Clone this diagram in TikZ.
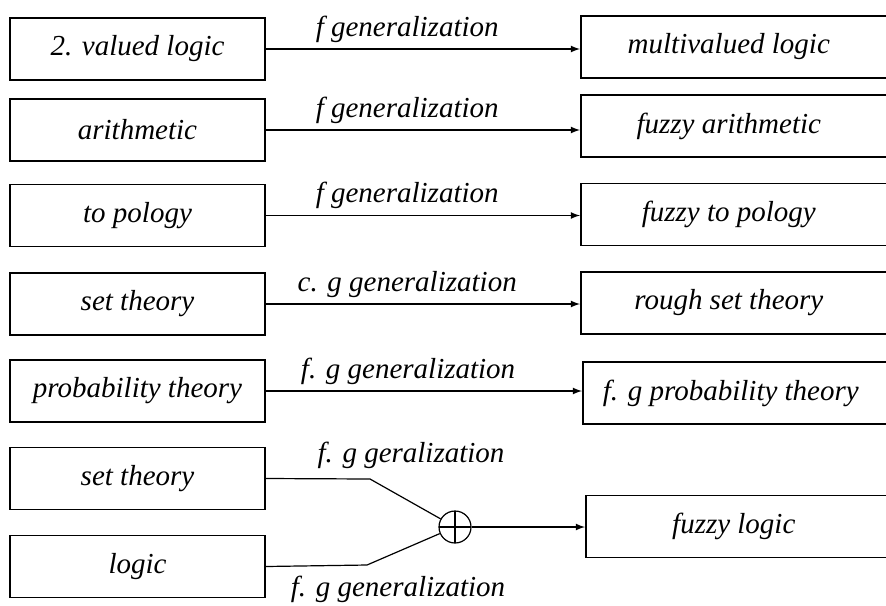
\documentclass[tikz,border=0pt]{standalone}
\usepackage{fontspec}
\setmainfont{Liberation Serif}
\usetikzlibrary{positioning}

\begin{document}
\begin{tikzpicture}[x=0.5pt,y=-0.5pt,>=latex,
    font=\fontsize{14.5}{16}\selectfont\itshape,
    lbox/.style={draw,line width=0.8pt,minimum width=127.5pt,minimum height=31pt,inner sep=0pt},
    rbox/.style={draw,line width=0.8pt,minimum height=31pt,inner sep=0pt,anchor=west,
      execute at begin node={\hbox to 148pt\bgroup\hss},
      execute at end node={\hss\egroup\hspace*{30pt}}},
    conn/.style={line width=0.6pt},
    lab/.style={above,inner sep=3pt}]
  \useasboundingbox (0,0) rectangle (886,605);
  % left column
  \node[lbox] (lval)  at (137.5,49)  {2. valued logic};
  \node[lbox] (larith) at (137.5,130) {arithmetic};
  \node[lbox] (ltop)  at (137.5,215.5) {to pology};
  \node[lbox] (lset)  at (137.5,304) {set theory};
  \node[lbox] (lprob) at (137.5,391) {probability theory};
  \node[lbox] (lset2) at (137.5,478.5) {set theory};
  \node[lbox] (llog)  at (137.5,566.5) {logic};
  % right column
  \node[rbox] (rval)   at (580,47)  {multivalued logic};
  \node[rbox] (rarith) at (580,126) {fuzzy arithmetic};
  \node[rbox] (rtop)   at (580,214.5) {fuzzy to pology};
  \node[rbox] (rset)   at (580,303) {rough set theory};
  \node[rbox] (rprob)  at (582,393) {f. g probability theory};
  \node[rbox] (rfuz)   at (585,526.5) {fuzzy logic};
  % arrows
  \draw[conn,->] (lval.east) -- (lval.east -| rval.west) node[lab,pos=0.45] {f generalization};
  \draw[conn,->] (larith.east) -- (larith.east -| rarith.west) node[lab,pos=0.45] {f generalization};
  \draw[conn,->] (ltop.east) -- (ltop.east -| rtop.west) node[lab,pos=0.45] {f generalization};
  \draw[conn,->] (lset.east) -- (lset.east -| rset.west) node[lab,pos=0.45] {c. g generalization};
  \draw[conn,->] (lprob.east) -- (lprob.east -| rprob.west) node[lab,pos=0.45] {f. g generalization};
  % join
  \node[draw,circle,conn,minimum size=16pt,inner sep=0pt,
    path picture={\draw[line width=0.8pt] (path picture bounding box.north) -- (path picture bounding box.south)
      (path picture bounding box.west) -- (path picture bounding box.east);}] (plus) at (455,527) {};
  \coordinate (bset) at (370,479);
  \coordinate (blog) at (367,565);
  \draw[conn] (lset2.east) -- (bset) -- (plus);
  \draw[conn] (llog.east) -- (blog) -- (plus);
  \node[lab] (gtop) at (411,475) {f. g geralization};
  \node[below,inner sep=3pt] (gbot) at (398,570) {f. g generalization};
  \draw[conn,->] (plus) -- (rfuz.west |- plus);
\end{tikzpicture}
\end{document}
